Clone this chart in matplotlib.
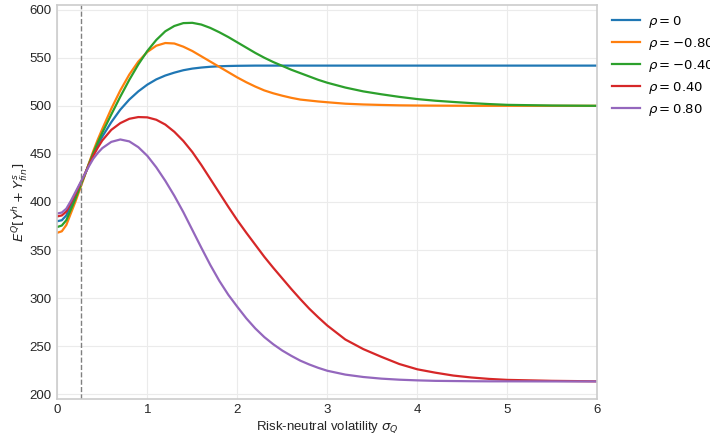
import matplotlib
matplotlib.use("Agg")
import matplotlib.pyplot as plt

plt.rcParams['font.family'] = ['Liberation Sans', 'DejaVu Sans']
plt.rcParams['mathtext.fontset'] = 'dejavusans'

sigma = [0.0, 0.05, 0.1, 0.15, 0.2, 0.25, 0.3, 0.35, 0.4, 0.45,
         0.5, 0.6, 0.7, 0.8, 0.9, 1.0, 1.1, 1.2, 1.3, 1.4, 1.5, 1.6, 1.7, 1.8, 1.9,
         2.0, 2.1, 2.2, 2.3, 2.4, 2.5, 2.6, 2.7, 2.8, 2.9, 3.0,
         3.2, 3.4, 3.6, 3.8, 4.0, 4.2, 4.4, 4.6, 4.8, 5.0, 5.5, 6.0]

rho_0 = [380, 381, 386, 396, 406, 416, 427, 439, 450, 459.5,
         468, 483, 496, 506.5, 515, 522, 527.5, 531.5, 534.5, 537, 538.7, 539.8, 540.6, 541.1, 541.4,
         541.6, 541.7, 541.8, 541.8, 541.8, 541.8, 541.8, 541.8, 541.8, 541.8, 541.8,
         541.8, 541.8, 541.8, 541.8, 541.8, 541.8, 541.8, 541.8, 541.8, 541.8, 541.8, 541.8]

rho_m080 = [368, 369.5, 376, 388, 400, 413, 426, 440, 453, 465,
            476, 497, 516, 532.5, 546, 556, 562.5, 565.3, 564.8, 561.5, 557, 551.5, 546, 540.5, 535,
            529.5, 524.5, 520, 516, 513, 510.5, 508.3, 506.5, 505.5, 504.5, 503.7,
            502.2, 501.4, 500.9, 500.5, 500.3, 500.2, 500.1, 500, 500, 500, 500, 500]

rho_m040 = [374, 375.5, 381, 392, 403, 415, 427, 439, 451, 462,
            472, 491, 509.5, 527, 543, 557, 568.5, 577.5, 583, 586, 586.3, 584.5, 581, 576.5, 571.5,
            566, 560.5, 555, 550, 545.5, 541.5, 537.5, 534, 530.5, 527, 524,
            519, 515, 512, 509.3, 507, 505.3, 504, 502.8, 501.8, 501, 500.3, 500]

rho_040 = [385, 386, 390, 399, 408, 418, 428, 438, 448, 456.5,
           464, 475, 482, 486.5, 488.3, 488, 485.5, 480.5, 473, 463.5, 452, 438.5, 424, 409.5, 395,
           381, 368, 355.5, 343, 331.5, 320.5, 309.5, 299, 289, 280, 271.5,
           257, 247, 239, 231.5, 226, 222.5, 219.5, 217.5, 216, 215, 214, 213.5]

rho_080 = [388, 389, 393, 401, 410, 419, 428, 437, 445, 451,
           456, 462.5, 465, 463, 457, 448, 436, 422, 406.5, 389.5, 371, 352.5, 334.5, 318, 303.5,
           291, 279, 268.5, 259.5, 252, 245.5, 240, 235, 231, 227.5, 224.5,
           220.5, 218, 216.3, 215.2, 214.5, 214, 213.8, 213.6, 213.5, 213.5, 213.4, 213.4]

labels = [r'$\rho = 0$', r'$\rho = -0.80$', r'$\rho = -0.40$', r'$\rho = 0.40$', r'$\rho = 0.80$']
colors = ['#1f77b4', '#ff7f0e', '#2ca02c', '#d62728', '#9467bd']
series = [rho_0, rho_m080, rho_m040, rho_040, rho_080]
sigma_marker = 0.26

fig = plt.figure(figsize=(7.1, 4.4), dpi=100)
ax = fig.add_axes([0.0807, 0.094, 0.7606, 0.895])
ax.set_facecolor('white')
for y, lab, c in zip(series, labels, colors):
    ax.plot(sigma, y, color=c, lw=1.6, label=lab)
ax.axvline(sigma_marker, color='gray', ls='--', lw=1.0)

ax.set_xlim(0, 6)
ax.set_ylim(195.5, 605)
ax.set_xticks(range(0, 7))
ax.set_yticks(range(200, 601, 50))
ax.grid(True, color='#ebebeb', lw=0.8)
ax.set_axisbelow(True)
for s in ax.spines.values():
    s.set_color('#cccccc')
    s.set_linewidth(1.2)
ax.tick_params(length=0, labelsize=9.5, pad=4, colors='#262626')
ax.set_xlabel(r'Risk-neutral volatility $\sigma_Q$', fontsize=9.5, color='#262626', labelpad=2)
ax.set_ylabel(r'$E^Q[Y^h + Y^s_{fin}]$', fontsize=9.5, color='#262626', labelpad=0)

ax.legend(loc='upper left', bbox_to_anchor=(1.01, 1.0), frameon=False, fontsize=9.5,
          handlelength=2.1, handletextpad=0.6, labelspacing=0.45, borderaxespad=0.3)

fig.savefig('out.png', dpi=100)
